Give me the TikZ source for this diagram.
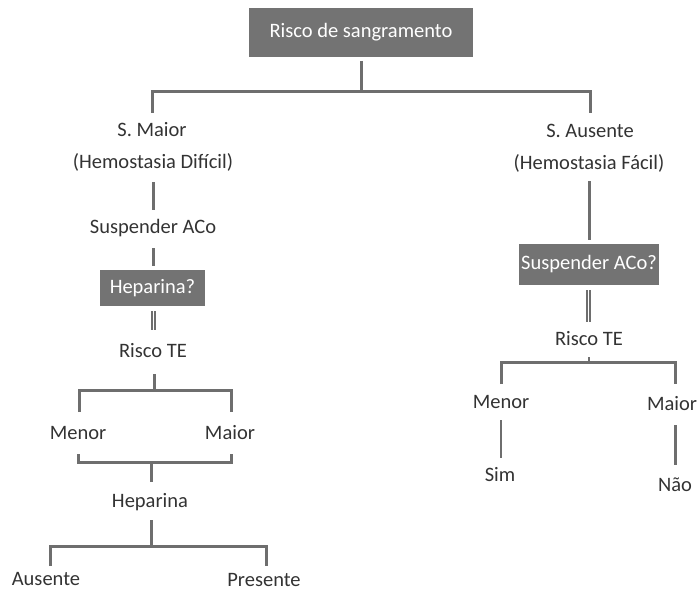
\documentclass[tikz,border=0pt]{standalone}
\usepackage{fontspec}
\setmainfont{Carlito}
\definecolor{boxgray}{HTML}{737373}
\definecolor{linegray}{HTML}{6E6E6E}
\definecolor{txt}{HTML}{333333}
\tikzset{
  lbl/.style={font=\fontsize{20.5}{22}\selectfont, text=txt, inner sep=0pt},
  gbox/.style={fill=boxgray, text=white, font=\fontsize{20.5}{22}\selectfont, inner sep=0pt, minimum height=36pt},
  conn/.style={draw=linegray, line width=3pt},
  thin/.style={draw=linegray, line width=2pt},
  dbl/.style={draw=linegray, line width=1.2pt},
}
\begin{document}
\begin{tikzpicture}[x=1pt,y=-1pt]
\useasboundingbox (0,0) rectangle (698,591);
% nodes
\node[gbox, minimum width=224pt, minimum height=49pt] (top) at (361,32.5) {Risco de sangramento};
\node[lbl] (smaior) at (152,130) {S. Maior};
\node[lbl] (hdif) at (153,162) {(Hemostasia Difícil)};
\node[lbl] (susp) at (153,228) {Suspender ACo};
\node[gbox, minimum width=105pt] (hep) at (152.5,288) {Heparina?};
\node[lbl] (rte1) at (153,351) {Risco TE};
\node[lbl] (men1) at (78,433) {Menor};
\node[lbl] (mai1) at (230,433) {Maior};
\node[lbl] (hepn) at (150,502) {Heparina};
\node[lbl] (aus) at (46,579) {Ausente};
\node[lbl] (pres) at (264,580) {Presente};
\node[lbl] (saus) at (590,131) {S. Ausente};
\node[lbl] (hfac) at (589,163) {(Hemostasia Fácil)};
\node[gbox, minimum width=140pt, minimum height=41pt] (susp2) at (589,264.5) {Suspender ACo?};
\node[lbl] (rte2) at (589,339) {Risco TE};
\node[lbl] (men2) at (501,402) {Menor};
\node[lbl] (mai2) at (672,404) {Maior};
\node[lbl] (sim) at (500,475) {Sim};
\node[lbl] (nao) at (675,485) {Não};
% endpoint and junction coordinates
\coordinate (t0) at (361,61);
\coordinate (j0) at (361,92);
\coordinate (jl) at (152,92);
\coordinate (jr) at (590,92);
\coordinate (jlb) at (152,113);
\coordinate (jrb) at (590,113);
\coordinate (a1) at (153,182);
\coordinate (a2) at (153,210);
\coordinate (a3) at (153,248);
\coordinate (a4) at (153,266);
\coordinate (d1a) at (152,311);
\coordinate (d1b) at (152,330);
\coordinate (d2a) at (155,311);
\coordinate (d2b) at (155,330);
\coordinate (r1) at (154,374);
\coordinate (j1) at (154,390);
\coordinate (j1l) at (79,390);
\coordinate (j1r) at (231,390);
\coordinate (j1lb) at (79,412);
\coordinate (j1rb) at (231,412);
\coordinate (j2lt) at (78,454);
\coordinate (j2rt) at (231,454);
\coordinate (j2) at (151,462);
\coordinate (j2l) at (78,462);
\coordinate (j2r) at (231,462);
\coordinate (j2b) at (151,482);
\coordinate (h1) at (151,520);
\coordinate (j3) at (151,546);
\coordinate (j3l) at (50,546);
\coordinate (j3r) at (266,546);
\coordinate (j3lb) at (50,566);
\coordinate (j3rb) at (266,566);
% right side coordinates
\coordinate (b1) at (589,181);
\coordinate (b2) at (589,240);
\coordinate (e1a) at (587,290);
\coordinate (e1b) at (587,322);
\coordinate (e2a) at (590,290);
\coordinate (e2b) at (590,322);
\coordinate (j4t) at (589,357);
\coordinate (j4) at (589,362);
\coordinate (j4l) at (501,362);
\coordinate (j4r) at (675,362);
\coordinate (j4lb) at (501,384);
\coordinate (j4rb) at (675,384);
\coordinate (s1) at (501,420);
\coordinate (s2) at (501,458);
\coordinate (n1) at (675,425);
\coordinate (n2) at (675,465);
% connectors
\draw[conn] (t0) -- (j0);
\draw[conn] (jlb) -- (jl) -- (jr) -- (jrb);
\draw[conn] (a1) -- (a2);
\draw[conn] (a3) -- (a4);
\draw[dbl] (d1a) -- (d1b);
\draw[dbl] (d2a) -- (d2b);
\draw[conn] (r1) -- (j1);
\draw[conn] (j1lb) -- (j1l) -- (j1r) -- (j1rb);
\draw[conn] (j2lt) -- (j2l) -- (j2r) -- (j2rt);
\draw[conn] (j2) -- (j2b);
\draw[conn] (h1) -- (j3);
\draw[conn] (j3lb) -- (j3l) -- (j3r) -- (j3rb);
\draw[conn] (b1) -- (b2);
\draw[dbl] (e1a) -- (e1b);
\draw[dbl] (e2a) -- (e2b);
\draw[thin] (j4t) -- (j4);
\draw[conn] (j4lb) -- (j4l) -- (j4r) -- (j4rb);
\draw[thin] (s1) -- (s2);
\draw[conn] (n1) -- (n2);
\end{tikzpicture}
\end{document}
